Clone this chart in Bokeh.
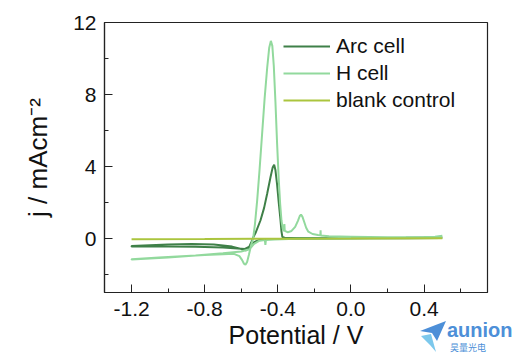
from bokeh.plotting import figure
from bokeh.models import (Range1d, FixedTicker, PrintfTickFormatter, Legend, LegendItem, Div)
from bokeh.layouts import column
from bokeh.embed import file_html
from bokeh.resources import INLINE

# ---- data ----
arc_v = [0.50, 0.30, 0.10, -0.10, -0.30, -0.45, -0.50, -0.53, -0.555, -0.58, -0.62, -0.70,
         -0.85, -1.00, -1.20,
         -1.20, -1.10, -1.00, -0.87, -0.75, -0.65, -0.60, -0.575, -0.56, -0.545, -0.535,
         -0.52, -0.495, -0.475, -0.458, -0.44, -0.428, -0.420, -0.413, -0.404, -0.395,
         -0.386, -0.38, -0.375, -0.36, -0.20, 0.0, 0.30, 0.50]
arc_j = [0.03, 0.02, 0.01, 0.0, -0.01, -0.03, -0.08, -0.2, -0.45, -0.58, -0.55, -0.50,
         -0.46, -0.45, -0.44,
         -0.42, -0.38, -0.34, -0.30, -0.33, -0.45, -0.58, -0.66, -0.55, -0.2, 0.05,
         0.35, 1.0, 1.7, 2.5, 3.4, 3.95, 4.1, 3.8, 3.0, 2.0,
         1.1, 0.4, 0.08, 0.03, 0.03, 0.03, 0.04, 0.05]

h_v = [0.50, 0.30, 0.10, -0.10, -0.30, -0.42, -0.465, -0.468, -0.471, -0.50, -0.53, -0.555,
       -0.60, -0.70, -0.85, -1.00, -1.20,
       -1.20, -1.05, -0.90, -0.80, -0.70, -0.64, -0.61, -0.595, -0.585, -0.577, -0.568,
       -0.558, -0.547, -0.535, -0.525, -0.513, -0.50, -0.486, -0.472, -0.458, -0.447,
       -0.438, -0.43, -0.422, -0.413, -0.404, -0.395, -0.387, -0.38, -0.373, -0.366,
       -0.364, -0.362, -0.345, -0.325, -0.305, -0.29, -0.28, -0.273, -0.265, -0.255,
       -0.245, -0.233, -0.21, -0.18, -0.167, -0.166, -0.165, -0.12, 0.0, 0.20, 0.40,
       0.46, 0.50]
h_j = [0.08, 0.03, 0.02, 0.0, -0.02, -0.05, -0.08, -0.35, -0.08, -0.12, -0.3, -0.6,
       -0.72, -0.82, -0.95, -1.05, -1.17,
       -1.15, -1.05, -0.97, -0.92, -0.87, -0.85, -0.98, -1.2, -1.4, -1.46, -1.3,
       -0.9, -0.4, 0.0, 0.8, 2.1, 3.8, 5.8, 7.8, 9.5, 10.6,
       10.98, 10.7, 9.6, 7.6, 5.3, 3.3, 1.9, 1.0, 0.55, 0.42,
       0.8, 0.42, 0.35, 0.42, 0.65, 0.98, 1.25, 1.33, 1.2, 0.9,
       0.6, 0.38, 0.25, 0.2, 0.18, 0.45, 0.17, 0.12, 0.1, 0.07, 0.08,
       0.1, 0.16]

blank_v = [-1.20, -0.80, -0.40, 0.0, 0.50]
blank_j = [-0.04, -0.03, -0.01, 0.0, 0.02]

x_ticks = [-1.2, -0.8, -0.4, 0.0, 0.4]
x_minor = [-1.0, -0.6, -0.2, 0.2, 0.6]
y_ticks = [0, 4, 8, 12]
y_minor = [-2, 2, 6, 10]

labels = ["Arc cell", "H cell", "blank control"]
colors = ["#3f8048", "#92d99d", "#abc53e"]

FONT = "Liberation Sans"

p = figure(output_backend="svg", toolbar_location=None,
           frame_width=383, frame_height=270,
           min_border_left=104, min_border_right=30, min_border_top=22, min_border_bottom=62,
           x_range=Range1d(-1.348, 0.747), y_range=Range1d(-3, 12))
p.background_fill_color = "white"
p.border_fill_color = "white"
p.xgrid.visible = False
p.ygrid.visible = False
p.outline_line_color = "#222222"
p.outline_line_width = 1.2

r_arc = p.line(arc_v, arc_j, line_color=colors[0], line_width=2)
r_h = p.line(h_v, h_j, line_color=colors[1], line_width=2)
r_blank = p.line(blank_v, blank_j, line_color=colors[2], line_width=2)

for ax in (p.xaxis[0], p.yaxis[0]):
    ax.axis_line_color = "#222222"
    ax.axis_line_width = 1.2
    ax.major_tick_line_color = "#222222"
    ax.minor_tick_line_color = "#222222"
    ax.major_tick_in = 8
    ax.major_tick_out = 0
    ax.minor_tick_in = 4
    ax.minor_tick_out = 0
    ax.major_label_text_font = FONT
    ax.major_label_text_font_size = "21px"
    ax.major_label_text_color = "#111111"
    ax.axis_label_text_font = FONT
    ax.axis_label_text_font_style = "normal"
    ax.axis_label_text_color = "#111111"

p.xaxis[0].ticker = FixedTicker(ticks=x_ticks, minor_ticks=x_minor)
p.xaxis[0].formatter = PrintfTickFormatter(format="%.1f")
p.xaxis[0].axis_label = "Potential / V"
p.xaxis[0].axis_label_text_font_size = "25px"
p.xaxis[0].major_label_standoff = 9
p.xaxis[0].axis_label_standoff = 2

p.yaxis[0].ticker = FixedTicker(ticks=y_ticks, minor_ticks=y_minor)
p.yaxis[0].formatter = PrintfTickFormatter(format="%d")
p.yaxis[0].axis_label = "j / mAcm\u207b\u00b2"
p.yaxis[0].axis_label_text_font_size = "26px"
p.yaxis[0].major_label_standoff = 8
p.yaxis[0].axis_label_standoff = 17

legend = Legend(items=[LegendItem(label=labels[0], renderers=[r_arc]),
                       LegendItem(label=labels[1], renderers=[r_h]),
                       LegendItem(label=labels[2], renderers=[r_blank])],
                location=(179, 179))
legend.border_line_color = None
legend.background_fill_alpha = 0
legend.padding = 0
legend.margin = 0
legend.spacing = 1
legend.glyph_width = 47
legend.glyph_height = 26
legend.label_height = 26
legend.label_standoff = 6
legend.label_text_font = FONT
legend.label_text_font_size = "21px"
legend.label_text_color = "#111111"
p.add_layout(legend, "center")

# watermark overlaid on the lower-right corner of the figure
logo_html = (
    '<div style="position:relative;width:100px;height:34px;">'
    '<svg style="position:absolute;left:0;top:0" width="30" height="34">'
    '<polygon points="2,11 28,1 19,21 14,13" fill="#4d8fd8"/>'
    '<polygon points="3,16 13,14 18,32 12,25" fill="#7cc8ec"/></svg>'
    '<span style="position:absolute;left:29px;top:0px;font-family:\'Liberation Sans\';'
    'font-weight:bold;font-size:20px;line-height:20px;color:#4d8fd8;">aunion</span>'
    '<span style="position:absolute;left:32px;top:23px;font-family:\'Noto Sans CJK SC\';'
    'font-size:9px;line-height:9px;color:#4d8fd8;">昊量光电</span></div>'
)
wm = Div(text=logo_html, width=100, height=34, margin=(-34, 0, 0, 418))

layout = column(p, wm)
open("out.html", "w").write(file_html(layout, INLINE))
